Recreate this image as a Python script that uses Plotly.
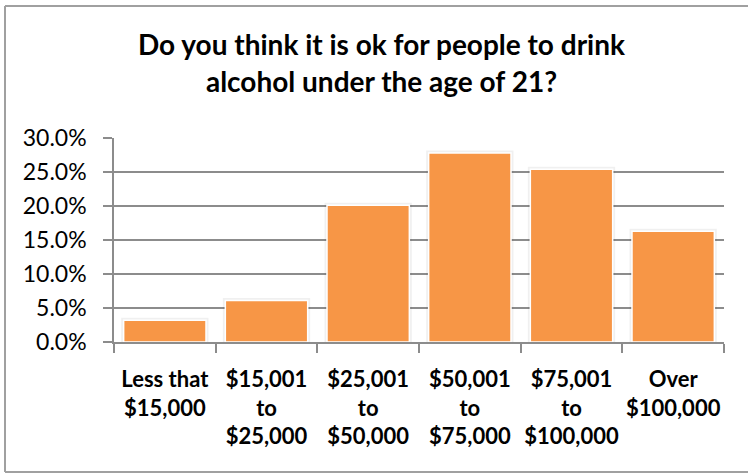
import plotly.graph_objects as go

# Income brackets and share of respondents answering the question
categories = [
    "Less that<br>$15,000",
    "$15,001<br>to<br>$25,000",
    "$25,001<br>to<br>$50,000",
    "$50,001<br>to<br>$75,000",
    "$75,001<br>to<br>$100,000",
    "Over<br>$100,000",
]
shares = [0.032, 0.061, 0.201, 0.278, 0.254, 0.163]
y_ticks = [0.0, 0.05, 0.10, 0.15, 0.20, 0.25, 0.30]

FONT = "Lato"
GRID = "#8c8c8c"
ORANGE = "#F79646"
FRAME = "#a0a0a0"

W, H = 748, 474
pl, pt, pw, ph = 114, 138, 610, 204  # plot area in pixels


def fx(x):
    return (x - pl) / pw


def fy(y):
    return 1 - (y - pt) / ph


fig = go.Figure()

# soft drop shadow behind each bar
fig.add_trace(go.Bar(
    x=categories, y=shares,
    marker=dict(color="rgba(0,0,0,0.10)", line=dict(color="rgba(0,0,0,0.06)", width=5)),
    hoverinfo="skip", showlegend=False,
))
fig.add_trace(go.Bar(
    x=categories, y=shares,
    marker=dict(color=ORANGE, line=dict(color="white", width=1.5)),
    showlegend=False,
))

# chart frame (left, top and bottom edges; the right edge runs off the page)
frame_left, frame_top, frame_bottom = 5, 6, 472
frame = [
    dict(type="line", xref="paper", yref="paper",
         x0=fx(frame_left), x1=fx(frame_left), y0=fy(frame_top), y1=fy(frame_bottom),
         line=dict(color=FRAME, width=2)),
    dict(type="line", xref="paper", yref="paper",
         x0=fx(frame_left), x1=fx(W), y0=fy(frame_top), y1=fy(frame_top),
         line=dict(color=FRAME, width=2)),
    dict(type="line", xref="paper", yref="paper",
         x0=fx(frame_left), x1=fx(W), y0=fy(frame_bottom), y1=fy(frame_bottom),
         line=dict(color=FRAME, width=2)),
]

fig.update_layout(
    width=W, height=H,
    barmode="overlay",
    bargap=0.19,
    paper_bgcolor="white",
    plot_bgcolor="white",
    margin=dict(l=pl, r=W - pl - pw, t=pt, b=H - pt - ph),
    title=dict(
        text="<b>Do you think it is ok for people to drink<br>alcohol under the age of 21?</b>",
        x=0.51, xanchor="center", y=0.883, yanchor="top",
        font=dict(family=FONT, size=28, color="black"),
        automargin=False,
    ),
    font=dict(family=FONT, color="black"),
    shapes=frame,
)

fig.update_yaxes(
    range=[0, 0.30],
    tickvals=y_ticks,
    tickformat=".1%",
    tickfont=dict(family=FONT, size=23, color="black"),
    ticklabelstandoff=12,
    automargin=False,
    showgrid=True, gridcolor=GRID, gridwidth=1.5,
    showline=True, linecolor=GRID, linewidth=1.5,
    ticks="outside", ticklen=9, tickcolor=GRID, tickwidth=1.5,
    zeroline=False,
)
fig.update_xaxes(
    tickfont=dict(family=FONT, size=22, color="black", weight="bold"),
    tickangle=0,
    ticklabelstandoff=17,
    automargin=False,
    showline=True, linecolor=GRID, linewidth=1.5,
    ticks="outside", ticklen=9, tickcolor=GRID, tickwidth=1.5,
    tickson="boundaries",
    showgrid=False,
)

fig.write_html("out.html")
